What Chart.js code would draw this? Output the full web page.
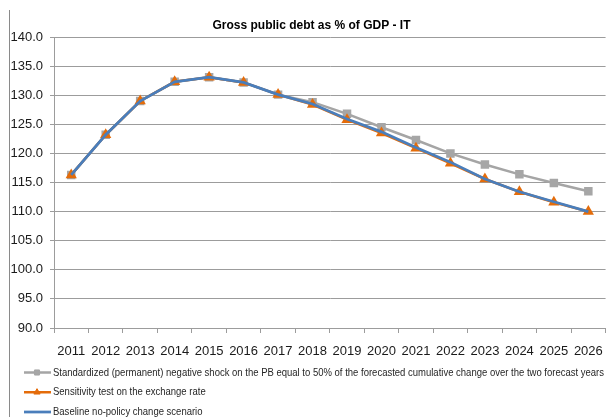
<!DOCTYPE html>
<html><head><meta charset="utf-8">
<script src="https://cdn.jsdelivr.net/npm/chart.js@4/dist/chart.umd.min.js"></script>
<style>
html,body{margin:0;padding:0;background:#fff;overflow:hidden;width:608px;height:417px}
#wrap{width:614px;height:417px}
</style></head>
<body><div id="wrap"><canvas id="c" width="614" height="417"></canvas></div>
<script>
// ---- data ----
const years = ['2011','2012','2013','2014','2015','2016','2017','2018','2019','2020','2021','2022','2023','2024','2025','2026'];
const shockPB      = [116.3,123.2,129.0,132.3,133.1,132.2,130.1,128.8,126.8,124.5,122.3,120.0,118.1,116.4,114.9,113.5];
const exchangeRate = [116.3,123.2,129.0,132.3,133.1,132.2,130.1,128.4,125.8,123.5,120.9,118.3,115.6,113.4,111.6,110.0];
const baseline     = [116.3,123.2,129.0,132.3,133.1,132.2,130.1,128.5,125.9,123.7,121.0,118.5,115.6,113.4,111.7,110.0];
const yMin = 90, yMax = 140, yStep = 5;
const titleText = 'Gross public debt as % of GDP - IT';
const seriesNames = [
  'Standardized (permanent) negative shock on the PB equal to 50% of the forecasted cumulative change over the two forecast years',
  'Sensitivity test on the exchange rate',
  'Baseline no-policy change scenario'
];

const FONT = '"Liberation Sans", Arial, sans-serif';
const GRID = '#9c9c9c';

const frameAndLegend = {
  id: 'frameAndLegend',
  beforeDraw(chart) {
    const ctx = chart.ctx;
    ctx.save();
    ctx.strokeStyle = '#8a8a8a';
    ctx.lineWidth = 1;
    ctx.beginPath();
    ctx.moveTo(9.5, 10);
    ctx.lineTo(9.5, chart.height);
    ctx.stroke();
    ctx.restore();
  },
  afterDraw(chart) {
    const ctx = chart.ctx;
    const ds = chart.data.datasets;
    ctx.save();
    ctx.font = '11px ' + FONT;
    const natural = ctx.measureText(ds[0].label).width;
    const sx = 551 / natural;
    const top = chart.chartArea.bottom + 33;
    ds.forEach((d, i) => {
      const y = top + 11.5 + i * 19.75;
      ctx.strokeStyle = d.borderColor;
      ctx.lineWidth = d.borderWidth;
      ctx.beginPath();
      ctx.moveTo(24, y);
      ctx.lineTo(51, y);
      ctx.stroke();
      if (d.pointRadius > 0) {
        ctx.fillStyle = d.pointBackgroundColor;
        ctx.strokeStyle = d.pointBorderColor;
        ctx.lineWidth = 1;
        Chart.helpers.drawPoint(ctx, {pointStyle: d.pointStyle, radius: 3.6, borderWidth: 1, rotation: 0}, 37, y);
      }
      ctx.fillStyle = '#262626';
      ctx.textBaseline = 'middle';
      ctx.textAlign = 'left';
      ctx.save();
      ctx.translate(53, y);
      ctx.scale(sx, 1);
      ctx.fillText(d.label, 0, 0);
      ctx.restore();
    });
    ctx.restore();
  }
};

new Chart(document.getElementById('c'), {
  type: 'line',
  data: {
    labels: years,
    datasets: [
      {
        label: seriesNames[0], data: shockPB, order: 2,
        borderColor: '#a5a5a5', borderWidth: 2.5,
        pointStyle: 'rect', pointRadius: 6,
        pointBackgroundColor: '#a6a6a6', pointBorderColor: '#a6a6a6', pointBorderWidth: 0,
        tension: 0
      },
      {
        label: seriesNames[1], data: exchangeRate, order: 1,
        borderColor: '#e46c0a', borderWidth: 2.5,
        pointStyle: 'triangle', pointRadius: 6.5,
        pointBackgroundColor: '#e46c0a', pointBorderColor: '#e46c0a', pointBorderWidth: 0,
        tension: 0
      },
      {
        label: seriesNames[2], data: baseline, order: 0,
        borderColor: '#4a7ebb', borderWidth: 2.75,
        pointRadius: 0,
        tension: 0
      }
    ]
  },
  options: {
    responsive: false,
    animation: false,
    devicePixelRatio: 1,
    layout: {padding: {left: 9, right: 0, top: 0, bottom: 56}},
    plugins: {
      legend: {display: false},
      tooltip: {enabled: false},
      title: {
        display: true, text: titleText, color: '#000',
        font: {family: FONT, size: 12, weight: 'bold'},
        padding: {top: 18, bottom: 4.6}
      }
    },
    scales: {
      x: {
        type: 'category',
        offset: true,
        grid: {offset: true, drawOnChartArea: false, drawTicks: true, tickLength: 5, color: GRID},
        border: {display: true, color: GRID},
        ticks: {color: '#1a1a1a', font: {family: FONT, size: 13}, padding: 11, maxRotation: 0, autoSkip: false},
        afterFit(s) { s.height = 33; }
      },
      y: {
        min: yMin, max: yMax,
        grid: {color: GRID, drawTicks: true, tickLength: 4},
        border: {display: true, color: GRID},
        ticks: {stepSize: yStep, color: '#1a1a1a', font: {family: FONT, size: 13}, padding: 7,
          callback: v => Number(v).toFixed(1)},
        afterFit(s) { s.width = 45; }
      }
    }
  },
  plugins: [frameAndLegend]
});
</script>
</body></html>
